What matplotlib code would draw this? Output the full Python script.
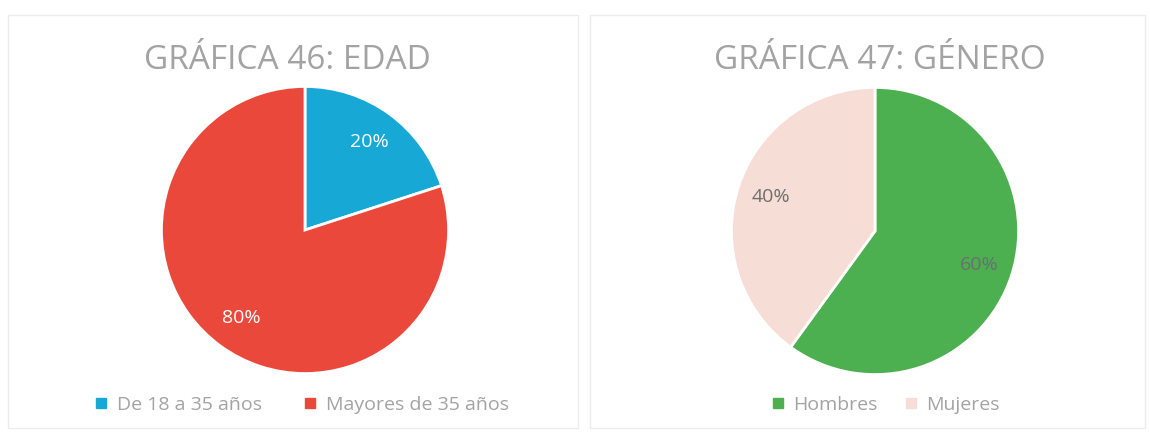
import matplotlib.pyplot as plt
from matplotlib.patches import Rectangle
from matplotlib.lines import Line2D

plt.rcParams['font.family'] = ['Open Sans', 'DejaVu Sans']

# datos
edad_labels = ['De 18 a 35 años', 'Mayores de 35 años']
edad_vals = [20, 80]
edad_cols = ['#17a8d6', '#e9483b']

genero_labels = ['Hombres', 'Mujeres']
genero_vals = [60, 40]
genero_cols = ['#4caf50', '#f6ddd5']

W, H = 1150, 434
fig = plt.figure(figsize=(W / 100, H / 100), dpi=100)
fig.patch.set_facecolor('white')

# marcos de los paneles
for x0, x1 in [(8, 578), (590, 1145)]:
    fig.add_artist(Rectangle((x0 / W, 1 - 428 / H), (x1 - x0) / W, (428 - 15) / H,
                             transform=fig.transFigure, fill=False,
                             edgecolor='#ececec', linewidth=1))


def dibujar(cx, cy, vals, cols, pct_color, titulo, tx, labels, leg_x, colsp):
    r = 145
    ax = fig.add_axes([(cx - r) / W, 1 - (cy + r) / H, 2 * r / W, 2 * r / H])
    wedges, texts, autotexts = ax.pie(vals, colors=cols, startangle=90, counterclock=False,
                                      autopct='%d%%', pctdistance=0.76,
                                      wedgeprops=dict(edgecolor='white', linewidth=2))
    for t in autotexts:
        t.set_color(pct_color)
        t.set_fontsize(14)
    ax.set_xlim(-1.01, 1.01)
    ax.set_ylim(-1.01, 1.01)
    ax.set_aspect('equal')
    fig.text(tx / W, 1 - 60 / H, titulo, ha='center', va='center',
             fontsize=24, color='#a3a3a3')
    handles = [Line2D([], [], marker='s', linestyle='', markersize=7,
                      markerfacecolor=c, markeredgecolor=c) for c in cols]
    fig.legend(handles, labels, loc='center', bbox_to_anchor=(leg_x / W, 1 - 405 / H),
               ncol=2, frameon=False, fontsize=14, labelcolor='#a3a3a3',
               handletextpad=0.3, columnspacing=colsp, handlelength=1)


dibujar(305, 230, edad_vals, edad_cols, 'white', 'GRÁFICA 46: EDAD', 287,
        edad_labels, 300, 2.0)
dibujar(875, 231, genero_vals, genero_cols, '#6e6e6e', 'GRÁFICA 47: GÉNERO', 880,
        genero_labels, 884, 1.2)

fig.savefig('out.png', dpi=100)
